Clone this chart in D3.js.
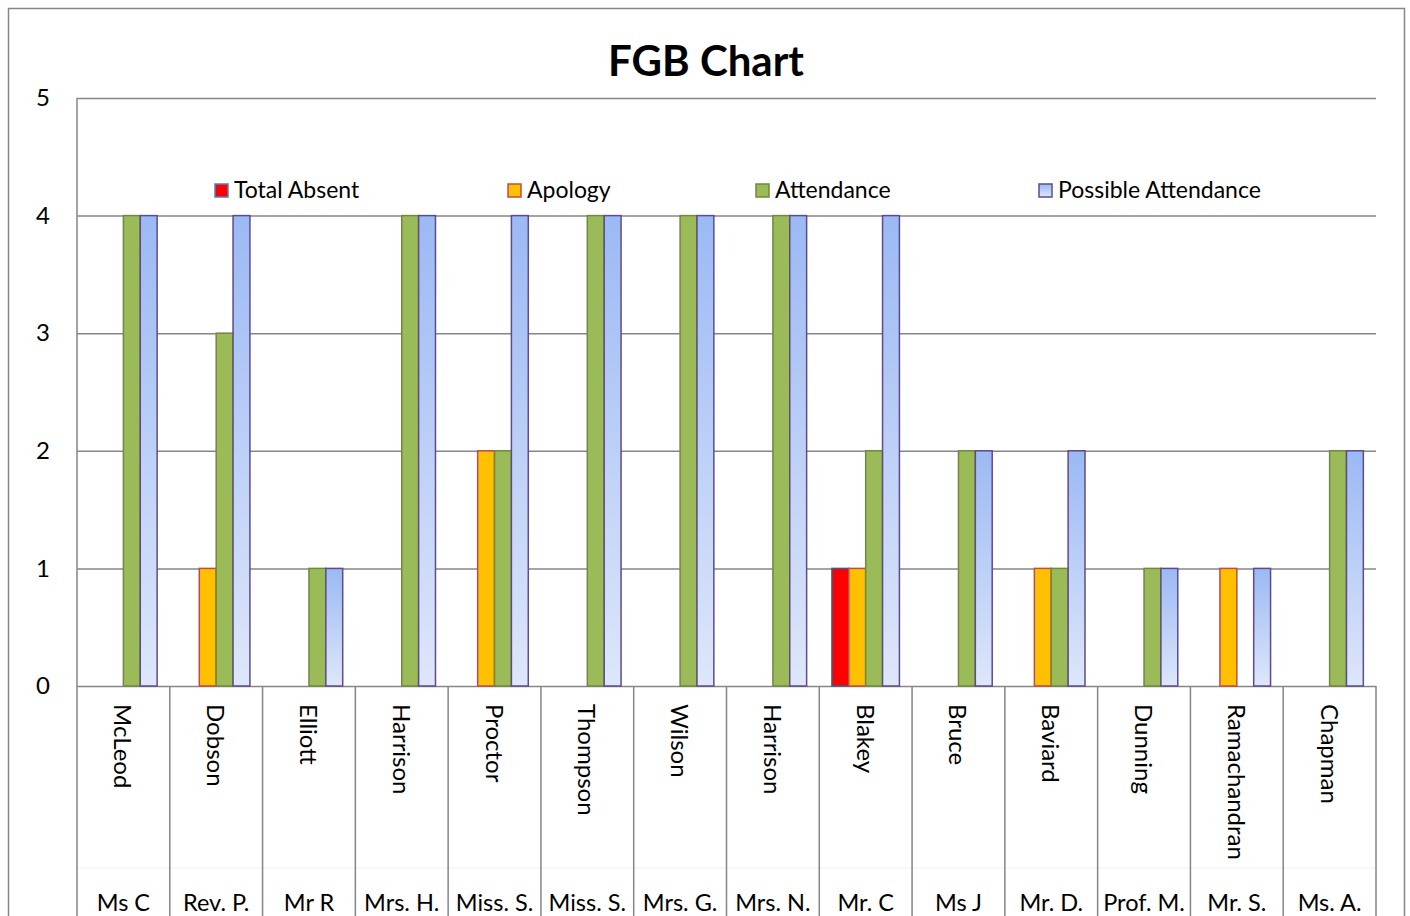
<!DOCTYPE html>
<html>
<head>
<meta charset="utf-8">
<script src="https://cdn.jsdelivr.net/npm/d3@7"></script>
<style>
  body { margin: 0; background: #fff; }
  text { font-family: Lato, "Open Sans", sans-serif; fill: #000; }
</style>
</head>
<body>
<div id="chart"></div>
<script>
// data
const surnames = ["McLeod", "Dobson", "Elliott", "Harrison", "Proctor", "Thompson", "Wilson",
  "Harrison", "Blakey", "Bruce", "Baviard", "Dunning", "Ramachandran", "Chapman"];
const firstNames = ["Ms C", "Rev. P.", "Mr R", "Mrs. H.", "Miss. S.", "Miss. S.", "Mrs. G.",
  "Mrs. N.", "Mr. C", "Ms J", "Mr. D.", "Prof. M.", "Mr. S.", "Ms. A."];
const seriesNames = ["Total Absent", "Apology", "Attendance", "Possible Attendance"];
const totalAbsent = [0, 0, 0, 0, 0, 0, 0, 0, 1, 0, 0, 0, 0, 0];
const apology     = [0, 1, 0, 0, 2, 0, 0, 0, 1, 0, 1, 0, 1, 0];
const attendance  = [4, 3, 1, 4, 2, 4, 4, 4, 2, 2, 1, 1, 0, 2];
const possible    = [4, 4, 1, 4, 4, 4, 4, 4, 4, 2, 2, 1, 1, 2];
const yTicks = [0, 1, 2, 3, 4, 5];

const W = 1410, H = 916;
const pL = 77, pR = 1376, pT = 98, pB = 686;
const gridCol = "#868686";

const fills = ["#ff0000", "#ffc000", "#9bbb59", "url(#blueGrad)"];
const strokes = ["#385d8a", "#be4b48", "#71893f", "#5f4b8b"];
const allSeries = [totalAbsent, apology, attendance, possible];

const svg = d3.select("#chart").append("svg")
  .attr("width", W).attr("height", H);

const defs = svg.append("defs");
const grad = defs.append("linearGradient")
  .attr("id", "blueGrad").attr("x1", 0).attr("y1", 0).attr("x2", 0).attr("y2", 1);
grad.append("stop").attr("offset", "0%").attr("stop-color", "#9bb9f4");
grad.append("stop").attr("offset", "100%").attr("stop-color", "#dee7fa");

// outer frame
svg.append("rect")
  .attr("x", 8.5).attr("y", 8.5)
  .attr("width", 1396).attr("height", 940)
  .attr("fill", "none").attr("stroke", gridCol).attr("stroke-width", 1.5);

// title
svg.append("text")
  .attr("x", 706).attr("y", 76)
  .attr("text-anchor", "middle")
  .style("font-size", "42px").style("font-weight", "bold")
  .text("FGB Chart");

const x0 = d3.scaleBand().domain(d3.range(surnames.length)).range([pL, pR]);
// gap width 150% -> 4 bars + 1.5 bar of gap
const bw = x0.bandwidth() / 5.5;
const y = d3.scaleLinear().domain([0, 5]).range([pB, pT]);

// gridlines
const yAxis = d3.axisLeft(y).tickValues(yTicks).tickFormat(d3.format("d"))
  .tickSize(-(pR - pL)).tickPadding(27);
svg.append("g")
  .attr("transform", `translate(${pL},0)`)
  .call(yAxis)
  .call(g => g.select(".domain").remove())
  .call(g => g.selectAll(".tick line").attr("stroke", gridCol).attr("stroke-width", 1.5))
  .call(g => g.selectAll(".tick text")
    .style("font-size", "24px").style("font-family", "Lato, sans-serif").attr("fill", "#000"));

// y axis line
svg.append("line")
  .attr("x1", pL).attr("x2", pL).attr("y1", pT).attr("y2", pB)
  .attr("stroke", gridCol).attr("stroke-width", 1.5);

// faint level separator
svg.append("line")
  .attr("x1", pL).attr("x2", pR).attr("y1", 868).attr("y2", 868)
  .attr("stroke", "#f2f2f2").attr("stroke-width", 1);

// category separators
svg.append("g").selectAll("line")
  .data(d3.range(surnames.length + 1))
  .join("line")
  .attr("x1", i => i < surnames.length ? x0(i) : pR)
  .attr("x2", i => i < surnames.length ? x0(i) : pR)
  .attr("y1", pB).attr("y2", H)
  .attr("stroke", gridCol).attr("stroke-width", 1.5);

// bars
allSeries.forEach((vals, s) => {
  svg.append("g").selectAll("rect")
    .data(vals.map((v, i) => ({v, i})).filter(d => d.v > 0))
    .join("rect")
    .attr("x", d => x0(d.i) + bw * 0.75 + s * bw)
    .attr("y", d => y(d.v))
    .attr("width", bw)
    .attr("height", d => y(0) - y(d.v))
    .attr("fill", fills[s])
    .attr("stroke", strokes[s])
    .attr("stroke-width", 1.5);
});

// category labels
svg.append("g").selectAll("text")
  .data(surnames)
  .join("text")
  .attr("transform", (d, i) => `translate(${x0(i) + x0.bandwidth() / 2 - 9},704) rotate(90)`)
  .style("font-size", "24px")
  .text(d => d);

svg.append("g").selectAll("text")
  .data(firstNames)
  .join("text")
  .attr("x", (d, i) => x0(i) + x0.bandwidth() / 2)
  .attr("y", 911)
  .attr("text-anchor", "middle")
  .style("font-size", "23.5px")
  .text(d => d);

// legend
const legendX = [215, 508, 756, 1039];
const legend = svg.append("g").selectAll("g")
  .data(seriesNames)
  .join("g")
  .attr("transform", (d, i) => `translate(${legendX[i]},184)`);
legend.append("rect")
  .attr("width", 13).attr("height", 13)
  .attr("fill", (d, i) => fills[i])
  .attr("stroke", (d, i) => i === 0 ? "#4f81bd" : strokes[i])
  .attr("stroke-width", 1.5);
legend.append("text")
  .attr("x", 19).attr("y", 14)
  .style("font-size", "23px")
  .text(d => d);
</script>
</body>
</html>
